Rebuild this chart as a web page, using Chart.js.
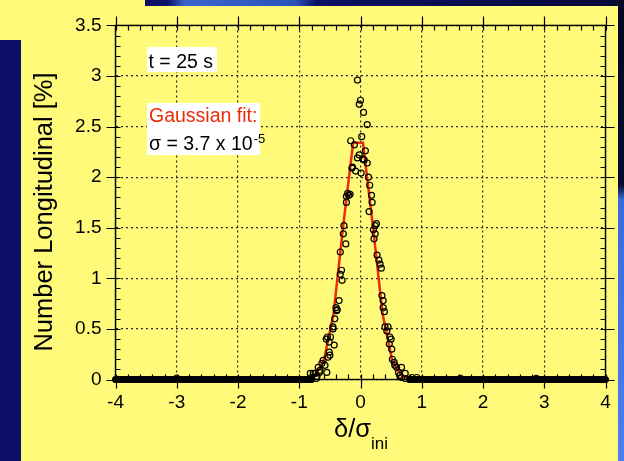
<!DOCTYPE html>
<html>
<head>
<meta charset="utf-8">
<script src="https://cdn.jsdelivr.net/npm/chart.js"></script>
<style>
  body { margin: 0; width: 624px; height: 461px; overflow: hidden; background: #0b1066; position: relative; }
  .fundo { position: absolute; }
  #amarelo { left: 21px; top: 6px; width: 597px; height: 455px; background: #fffa7a; }
  #amareloTopo { left: 0; top: 0; width: 145px; height: 40px; background: #fffa7a; }
  #faixaTopo { left: 145px; top: 0; width: 479px; height: 6px;
    background: linear-gradient(90deg, #0b1066 0, #0b1066 22px, #3a64cc 40px, #2c52bc 150px, #0b1066 172px, #070a35 100%); }
  #faixaDireita { left: 618px; top: 0; width: 6px; height: 461px;
    background: linear-gradient(180deg, #05081f 0, #070b30 185px, #3a6ae0 200px, #4b7ff0 100%); }
  canvas { position: absolute; left: 0; top: 0; }
</style>
</head>
<body>
<div class="fundo" id="amarelo"></div>
<div class="fundo" id="amareloTopo"></div>
<div class="fundo" id="faixaTopo"></div>
<div class="fundo" id="faixaDireita"></div>
<canvas id="grafico" width="624" height="461"></canvas>
<script>
const fonte = "'Liberation Sans', Arial, sans-serif";

// pontos da distribuicao em t = 25 s (delta/sigma_ini, %)
const picoX = [-0.05, 0.00, -0.02, 0.05, 0.11, 0.02, -0.16, -0.10, 0.08, -0.02,
  -0.05, 0.04, 0.06, 0.11, -0.13, -0.14, -0.08, 0.01, 0.13, 0.15,
  -0.19, -0.21, -0.17, -0.23, 0.18, 0.19, -0.23, 0.14, -0.27, 0.26,
  0.24, 0.21, 0.24, 0.22, -0.28, -0.24, -0.33, 0.27, 0.30, 0.32,
  0.34, -0.31, -0.33, -0.30, -0.35, -0.40, -0.38, -0.39, -0.42, -0.45,
  -0.45, -0.54, -0.49, -0.56, -0.51, -0.43, -0.51, -0.50, -0.53, -0.61,
  -0.63, -0.58, -0.69, -0.66, -0.55, -0.74, -0.82, -0.80, -0.72, -0.77,
  -0.71, -0.67, 0.35, 0.37, 0.37, 0.39, 0.40, 0.45, 0.43, 0.48,
  0.50, 0.47, 0.51, 0.52, 0.55, 0.56, 0.59, 0.67, 0.62, 0.64,
  0.67, 0.73, 0.84, 0.92, 0.73];
const picoY = [2.96, 2.76, 2.72, 2.64, 2.52, 2.40, 2.36, 2.32, 2.26, 2.22,
  2.19, 2.18, 2.17, 2.14, 2.10, 2.09, 2.06, 2.04, 2.00, 1.92,
  1.82, 1.84, 1.83, 1.81, 1.82, 1.75, 1.75, 1.66, 1.52, 1.54,
  1.52, 1.48, 1.44, 1.39, 1.44, 1.34, 1.26, 1.23, 1.18, 1.14,
  1.10, 1.08, 1.04, 0.98, 0.78, 0.71, 0.69, 0.68, 0.60, 0.52,
  0.50, 0.42, 0.42, 0.40, 0.37, 0.34, 0.27, 0.24, 0.22, 0.19,
  0.16, 0.14, 0.12, 0.09, 0.07, 0.06, 0.06, 0.02, 0.01, 0.06,
  0.03, 0.07, 0.83, 0.78, 0.71, 0.67, 0.52, 0.52, 0.48, 0.42,
  0.40, 0.35, 0.30, 0.20, 0.17, 0.14, 0.12, 0.12, 0.07, 0.04,
  0.02, 0.01, 0.02, 0.02, 0.06];

// pontos soltos logo acima do zero
const soltosX = [-3.0, 1.63, 2.87];
const soltosY = [0.015, 0.012, 0.012];

// linha de base: pontos em zero fora do pico
const nivelBase = 0;
const baseEsqX = [-4, -3.96, -3.92, -3.88, -3.84, -3.8, -3.76, -3.72, -3.68, -3.64,
  -3.6, -3.56, -3.52, -3.48, -3.44, -3.4, -3.36, -3.32, -3.28, -3.24,
  -3.2, -3.16, -3.12, -3.08, -3.04, -3, -2.96, -2.92, -2.88, -2.84,
  -2.8, -2.76, -2.72, -2.68, -2.64, -2.6, -2.56, -2.52, -2.48, -2.44,
  -2.4, -2.36, -2.32, -2.28, -2.24, -2.2, -2.16, -2.12, -2.08, -2.04,
  -2, -1.96, -1.92, -1.88, -1.84, -1.8, -1.76, -1.72, -1.68, -1.64,
  -1.6, -1.56, -1.52, -1.48, -1.44, -1.4, -1.36, -1.32, -1.28, -1.24,
  -1.2, -1.16, -1.12, -1.08, -1.04, -1, -0.96, -0.92, -0.88, -0.84, -0.8];
const baseDirX = [0.8, 0.84, 0.88, 0.92, 0.96, 1, 1.04, 1.08, 1.12, 1.16,
  1.2, 1.24, 1.28, 1.32, 1.36, 1.4, 1.44, 1.48, 1.52, 1.56,
  1.6, 1.64, 1.68, 1.72, 1.76, 1.8, 1.84, 1.88, 1.92, 1.96,
  2, 2.04, 2.08, 2.12, 2.16, 2.2, 2.24, 2.28, 2.32, 2.36,
  2.4, 2.44, 2.48, 2.52, 2.56, 2.6, 2.64, 2.68, 2.72, 2.76,
  2.8, 2.84, 2.88, 2.92, 2.96, 3, 3.04, 3.08, 3.12, 3.16,
  3.2, 3.24, 3.28, 3.32, 3.36, 3.4, 3.44, 3.48, 3.52, 3.56,
  3.6, 3.64, 3.68, 3.72, 3.76, 3.8, 3.84, 3.88, 3.92, 3.96, 4];

// ajuste gaussiano (linha vermelha)
const ajusteX = [-0.92, -0.76, -0.60, -0.44, -0.28, -0.12, 0.04, 0.20, 0.36, 0.52, 0.68, 0.84];
const ajusteY = [0.004, 0.033, 0.18, 0.65, 1.53, 2.34, 2.34, 1.53, 0.65, 0.18, 0.033, 0.004];

const ticksX = [-4, -3, -2, -1, 0, 1, 2, 3, 4];
const ticksY = [0, 0.5, 1, 1.5, 2, 2.5, 3, 3.5];
const passoMenorX = 0.2;
const passoMenorY = 0.1;

const juntaPontos = (xs, ys) => xs.map((x, i) => ({ x: x, y: ys[i] }));

const dadosPico = juntaPontos(picoX, picoY).concat(juntaPontos(soltosX, soltosY));
const dadosBase = baseEsqX.concat(baseDirX).map(x => ({ x: x, y: nivelBase }));
const dadosAjuste = juntaPontos(ajusteX, ajusteY);

const estiloPonto = {
  pointStyle: 'circle',
  pointRadius: 3,
  pointBorderWidth: 1.2,
  borderColor: '#000',
  backgroundColor: 'rgba(0,0,0,0)',
  showLine: false,
  clip: false
};

// moldura com ticks maiores para fora e menores para dentro, nos quatro lados
const moldura = {
  id: 'moldura',
  afterDraw(grafico) {
    const { ctx, chartArea: a, scales: { x, y } } = grafico;
    ctx.save();
    ctx.strokeStyle = '#000';
    ctx.lineWidth = 1.4;
    ctx.strokeRect(a.left, a.top, a.right - a.left, a.bottom - a.top);

    ctx.lineWidth = 1.2;
    ctx.beginPath();
    for (let v = x.min; v <= x.max + 1e-6; v += passoMenorX) {
      const px = Math.round(x.getPixelForValue(v)) + 0.5;
      ctx.moveTo(px, a.bottom); ctx.lineTo(px, a.bottom - 5);
      ctx.moveTo(px, a.top); ctx.lineTo(px, a.top + 5);
    }
    for (let v = y.min; v <= y.max + 1e-6; v += passoMenorY) {
      const py = Math.round(y.getPixelForValue(v)) + 0.5;
      ctx.moveTo(a.left, py); ctx.lineTo(a.left + 5, py);
      ctx.moveTo(a.right, py); ctx.lineTo(a.right - 5, py);
    }
    ticksX.forEach(v => {
      const px = Math.round(x.getPixelForValue(v)) + 0.5;
      ctx.moveTo(px, a.bottom); ctx.lineTo(px, a.bottom + 9);
      ctx.moveTo(px, a.top); ctx.lineTo(px, a.top - 9);
    });
    ticksY.forEach(v => {
      const py = Math.round(y.getPixelForValue(v)) + 0.5;
      ctx.moveTo(a.left, py); ctx.lineTo(a.left - 9, py);
      ctx.moveTo(a.right, py); ctx.lineTo(a.right + 9, py);
    });
    ctx.stroke();
    ctx.restore();
  }
};

// titulos dos eixos e caixas de texto
const textos = {
  id: 'textos',
  afterDraw(grafico) {
    const ctx = grafico.ctx;
    ctx.save();
    ctx.fillStyle = '#000';
    ctx.textBaseline = 'alphabetic';

    // eixo y
    ctx.save();
    ctx.translate(52, 212);
    ctx.rotate(-Math.PI / 2);
    ctx.textAlign = 'center';
    ctx.font = '25.5px ' + fonte;
    ctx.fillText('Number Longitudinal [%]', 0, 0);
    ctx.restore();

    // eixo x: delta/sigma com indice "ini"
    ctx.textAlign = 'left';
    ctx.font = '25.5px ' + fonte;
    const principal = 'δ/σ';
    const wp = ctx.measureText(principal).width;
    ctx.font = '17px ' + fonte;
    const wi = ctx.measureText('ini').width;
    const x0 = 361 - (wp + wi) / 2;
    ctx.font = '25.5px ' + fonte;
    ctx.fillText(principal, x0, 437);
    ctx.font = '17px ' + fonte;
    ctx.fillText('ini', x0 + wp, 449);

    // caixas brancas
    ctx.fillStyle = '#fff';
    ctx.fillRect(147, 47, 70, 25);
    ctx.fillRect(147, 103, 113, 52);

    ctx.font = '19.5px ' + fonte;
    ctx.fillStyle = '#000';
    ctx.fillText('t = 25 s', 148.5, 68);
    ctx.fillStyle = '#ee2a08';
    ctx.fillText('Gaussian fit:', 149, 122);
    ctx.fillStyle = '#000';
    const sig = 'σ = 3.7 x 10';
    ctx.fillText(sig, 149, 150);
    const ws = ctx.measureText(sig).width;
    ctx.font = '13px ' + fonte;
    ctx.fillText('-5', 149 + ws + 1, 143);
    ctx.restore();
  }
};

const grafico = new Chart(document.getElementById('grafico'), {
  type: 'scatter',
  data: {
    datasets: [
      Object.assign({ label: 'pico', data: dadosPico }, estiloPonto),
      // os circulos em zero ficam tao juntos que formam uma faixa cheia
      Object.assign({ label: 'base', data: dadosBase }, estiloPonto,
        { pointRadius: 2.9, pointBorderWidth: 1.2, backgroundColor: '#000' }),
      {
        label: 'ajuste',
        data: dadosAjuste,
        showLine: true,
        borderColor: '#ec2d0a',
        borderWidth: 2.5,
        pointRadius: 0,
        clip: false
      }
    ]
  },
  options: {
    responsive: false,
    animation: false,
    devicePixelRatio: 1,
    layout: { padding: { top: 24.5, right: 18.5, left: 0, bottom: 0 } },
    plugins: { legend: { display: false }, tooltip: { enabled: false } },
    scales: {
      x: {
        type: 'linear',
        min: -4,
        max: 4,
        afterBuildTicks: s => { s.ticks = ticksX.map(v => ({ value: v })); },
        afterFit: s => { s.height = 81.5; },
        ticks: { color: '#000', font: { family: fonte, size: 19 }, padding: 12, callback: v => String(v) },
        grid: { color: '#2a2a2a', lineWidth: 1.2, drawTicks: false },
        border: { display: false, dash: [2, 3] }
      },
      y: {
        type: 'linear',
        min: 0,
        max: 3.5,
        afterBuildTicks: s => { s.ticks = ticksY.map(v => ({ value: v })); },
        afterFit: s => { s.width = 115.5; },
        ticks: { color: '#000', font: { family: fonte, size: 19 }, padding: 14, callback: v => String(v) },
        grid: { color: '#2a2a2a', lineWidth: 1.2, drawTicks: false },
        border: { display: false, dash: [2, 3] }
      }
    }
  },
  plugins: [moldura, textos]
});
</script>
</body>
</html>
